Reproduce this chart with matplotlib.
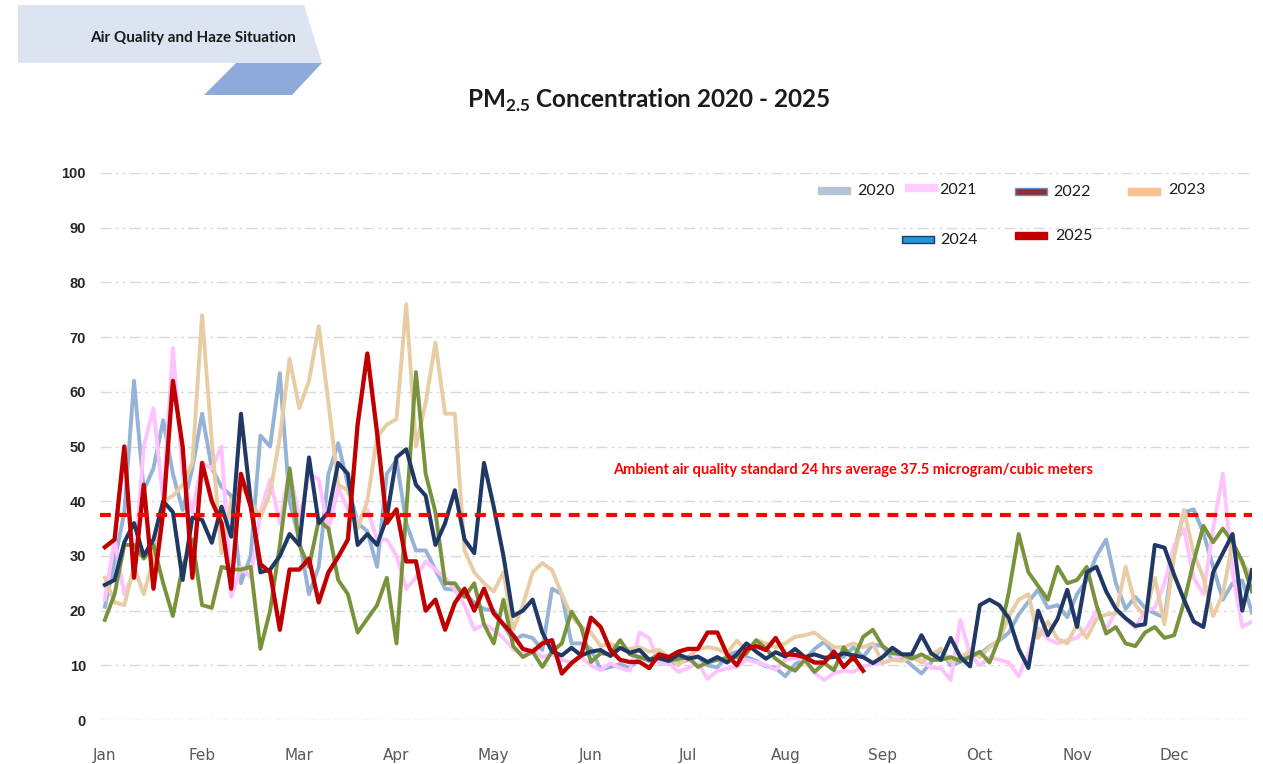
import numpy as np
import matplotlib.pyplot as plt
from matplotlib.patches import Polygon, Rectangle

plt.rcParams['mathtext.fontset'] = 'custom'
plt.rcParams['mathtext.rm'] = 'Lato:bold'
plt.rcParams['mathtext.bf'] = 'Lato:bold'

## Data: daily-ish PM2.5 readings, one value every ~3 days (0.1 month)
months = ['Jan', 'Feb', 'Mar', 'Apr', 'May', 'Jun', 'Jul', 'Aug', 'Sep', 'Oct', 'Nov', 'Dec']
years = ['2020', '2021', '2022', '2023', '2024', '2025']
standard = 37.5

pm2020 = [20.7, 29, 38, 62, 42, 46, 54.8, 45, 38.4, 46,
          56, 46, 42.6, 41, 25, 30, 52, 50, 63.4, 40,
          33, 23, 28, 45, 50.6, 43, 36, 34.5, 28, 45,
          47.5, 36, 31, 31, 27.5, 24, 23.8, 23, 21.5, 20.3,
          20, 17.3, 14.6, 15.5, 15, 12.8, 24, 23, 14, 14,
          13, 9.2, 9.7, 10.2, 9.5, 11.5, 10.8, 11, 10.2, 10.4,
          11, 11.5, 10, 9.6, 11.8, 12.5, 11.5, 10.8, 9.8, 9.5,
          8, 10.2, 11, 13, 14.3, 12.2, 11.5, 13.3, 11.5, 13.8,
          13.5, 11, 11.5, 10, 8.5, 10.5, 13, 10, 10.6, 12,
          12, 13.5, 14.5, 16, 19.3, 21.6, 23.8, 20.5, 21, 18.8,
          23, 25.6, 30, 33, 25, 20.3, 22.5, 20.5, 19.5, 18.7,
          31, 38, 38.5, 34.2, 28, 22, 25, 25.5, 19.6]

pm2021 = [22, 33, 23, 27, 50, 57, 40, 68, 45, 38,
          47, 46, 50, 22.5, 28, 26, 38, 44, 36, 46,
          36.5, 45, 44, 34.7, 42.5, 38.4, 36.5, 38.5, 33, 33,
          30, 24, 26, 29, 27.5, 26, 23.8, 21, 16.5, 17.5,
          16.5, 15, 13, 12, 13, 11.5, 12, 11, 10.5, 11.5,
          10, 9.1, 10.4, 9.5, 9, 16, 15, 10.4, 10.4, 8.8,
          9.5, 10.4, 7.5, 9, 9.4, 9.7, 11, 10.6, 10, 9.2,
          11, 11.3, 11, 8.6, 7.3, 8.6, 9, 8.8, 9.8, 10.2,
          10.4, 11, 11.8, 12, 11, 9.5, 9.5, 7.3, 18.3, 12,
          10, 11.5, 11, 10.5, 8, 12.2, 16.8, 14.8, 14, 14.6,
          15, 16.8, 20, 16.5, 20, 18.5, 16.8, 20, 20.5, 25,
          32, 35, 26, 23, 35, 45, 27, 17, 18]

pm2022 = [24.7, 25.6, 32.5, 36, 30, 33, 40, 38, 25.6, 37,
          36.6, 32.4, 39, 33.5, 56, 40, 27, 27.5, 30, 34,
          32, 48, 36, 38, 47, 45, 32, 34, 32, 37,
          48, 49.5, 43, 41, 32, 36, 42, 33, 30.5, 47,
          39, 30, 19, 20, 22, 16, 12.5, 11.8, 13.2, 11.8,
          12.5, 12.8, 11.7, 13.2, 12.3, 12.8, 11, 11.3, 10.8, 12,
          11.2, 11.6, 10.6, 11.5, 10.5, 12, 14, 12.5, 11.2, 12.4,
          11.6, 13, 11.5, 12, 11.4, 11.5, 12.2, 11.8, 11.5, 10.4,
          11.5, 13.2, 12, 12, 15.5, 12.2, 11, 15, 11.5, 9.8,
          21, 22, 21, 18.6, 13, 9.5, 20, 15.5, 18.5, 23.8,
          17, 27, 28, 23.5, 20.3, 18.6, 17.2, 17.5, 32, 31.5,
          26.5, 22, 18, 17, 27, 30.5, 34, 20, 27.4]

pm2023 = [26, 21.5, 21, 28, 23, 29.5, 40, 41, 43, 47,
          74, 51, 30.5, 40, 43, 40, 37, 41.5, 51.7, 66,
          57, 62, 72, 58, 43, 42, 35, 40, 51.7, 54,
          55, 76, 50, 58, 69, 56, 56, 31, 27, 25,
          23.5, 27, 16.5, 21, 27, 28.7, 27.4, 23, 19, 17,
          16, 13.5, 14, 13, 13, 13.3, 12.5, 12.8, 11.5, 10,
          11.5, 13, 13.3, 13, 12.2, 14.5, 12.8, 14.6, 14, 13.3,
          14, 15.2, 15.5, 16, 14.6, 13.3, 13.3, 14, 13.3, 14,
          10.5, 11, 10.8, 11.5, 10.5, 12, 13, 10.6, 11.5, 12.5,
          11.5, 13.3, 14.6, 19, 22, 23, 15, 18, 14.8, 14,
          17.5, 15, 18.5, 19.3, 19.5, 28, 21, 19, 26, 17.5,
          30, 38.4, 30.5, 26, 19, 23, 32.5, 28.5, 26.5]

pm2024 = [18.3, 23, 32, 32, 29.5, 32, 25, 19, 28, 33,
          21, 20.5, 28, 27.5, 27.5, 28, 13, 20, 32, 46,
          32, 28, 36.5, 35, 25.6, 23, 16, 18.5, 21, 26,
          14, 38, 63.6, 45, 38, 25, 25, 22.5, 25, 17.5,
          14, 22, 13.5, 11.5, 12.5, 9.7, 12.5, 14, 19.8, 17,
          10.6, 12.2, 12, 14.6, 12, 11.5, 11, 12, 10.8, 11.2,
          11.5, 9.7, 10.5, 11, 11.3, 11.5, 12.2, 14.6, 13, 11.2,
          9.9, 9, 11, 8.8, 10.4, 9.1, 13.3, 11, 15.2, 16.5,
          13.5, 12.2, 12, 11.2, 12, 11, 11, 11.5, 10.8, 11.5,
          12.5, 10.5, 15, 23.5, 34, 27, 24.5, 22, 28, 25,
          25.6, 28, 21, 15.8, 17, 14, 13.5, 16, 17, 15,
          15.5, 21.5, 29, 35.5, 32.5, 35, 32.5, 29, 23.5]

pm2025 = [31.6, 33, 50, 26, 43, 24, 38, 62, 50, 26,
          47, 40, 36, 24, 45, 39, 28.5, 27, 16.5, 27.5,
          27.5, 29.5, 21.5, 27, 29.8, 33, 54, 67, 52.5, 36,
          38.5, 29, 29, 20, 22, 16.5, 21.4, 24, 20, 24,
          19.5, 17.5, 15.5, 13, 12.5, 14, 14.6, 8.5, 10.4, 11.8,
          18.7, 17, 12.8, 11, 10.6, 10.6, 9.5, 12, 11.5, 12.5,
          13, 13, 16, 16, 12, 10, 13, 13.5, 12.8, 15,
          12, 11.9, 11.5, 10.5, 10.5, 12.5, 9.7, 11.5, 9]

series = [pm2020, pm2021, pm2022, pm2023, pm2024, pm2025]
line_colors = ['#95b3d7', '#ffc2ff', '#1f3864', '#e8cca4', '#77933c', '#c00000']
line_widths = [2.8, 2.8, 2.9, 2.8, 2.8, 3.1]
draw_order = [2.0, 2.1, 2.5, 2.2, 2.3, 2.6]

# legend swatches look different from the lines in the source
swatch_fill = ['#b4c3d6', '#ffccff', '#8c2f3f', '#f7c08e', '#1e98d8', '#c00000']
swatch_edge = ['#b4c3d6', '#ffccff', '#6f8fc4', '#f7c08e', '#1f3864', '#c00000']

W, H = 1263, 764
fig = plt.figure(figsize=(W / 100, H / 100), dpi=100)
ax = fig.add_axes([100 / W, 44 / H, 1152 / W, 547 / H])

for vals, c, lw, z in zip(series, line_colors, line_widths, draw_order):
    x = np.arange(len(vals)) * 0.1
    ax.plot(x, vals, color=c, lw=lw, zorder=z, solid_joinstyle='round')

ax.axhline(standard, color='#ff0000', lw=3, linestyle=(0, (2.6, 1.9)), zorder=5)
ax.text(5.23, 45.7, 'Ambient air quality standard 24 hrs average 37.5 microgram/cubic meters',
        color='#ff0000', fontsize=10.5, fontweight='bold', family='Lato',
        ha='left', va='center')

ax.set_xlim(-0.05, 11.8)
ax.set_ylim(0, 100)
ax.set_yticks(range(0, 101, 10))
ax.set_xticks(range(12))
ax.set_xticklabels(months, family=['Liberation Sans Narrow', 'DejaVu Sans'],
                   fontsize=11, color='#595959')
ax.set_yticklabels([str(v) for v in range(0, 101, 10)], family='Liberation Sans',
                   fontweight='bold', fontsize=10.5, color='#262626')
ax.tick_params(axis='both', length=0)
ax.tick_params(axis='y', pad=10)
ax.tick_params(axis='x', pad=20)
ax.yaxis.grid(True, color='#d9d9d9', lw=1, linestyle=(0, (8, 3, 2, 3, 2, 3)))
ax.set_axisbelow(True)
for s in ax.spines.values():
    s.set_visible(False)

## Banner at top left
def fpt(px, py):
    return (px / W, 1 - py / H)

fig.add_artist(Polygon([fpt(18, 5), fpt(304, 5), fpt(322, 63), fpt(18, 63)],
                       closed=True, facecolor='#dbe4f0', edgecolor='none',
                       transform=fig.transFigure))
fig.add_artist(Polygon([fpt(236, 63), fpt(322, 63), fpt(292, 95), fpt(204, 95)],
                       closed=True, facecolor='#8eaadb', edgecolor='none',
                       transform=fig.transFigure))
fig.text(193 / W, 1 - 38 / H, 'Air Quality and Haze Situation', family='Lato',
         fontweight='bold', fontsize=11, color='#1a1a1a', ha='center', va='center')

## Title
fig.text(649 / W, 1 - 100 / H, r'PM$_{2.5}$ Concentration 2020 - 2025', family='Lato',
         fontweight='bold', fontsize=17.5, color='#1a1a1a', ha='center', va='center')

## Legend drawn by hand (two uneven rows)
legend_pos = [(818, 187, 857, 191), (905, 184, 939, 190), (1015, 188, 1053, 192),
              (1128, 188, 1168, 190), (902, 236, 940, 240), (1015, 232, 1055, 236)]
for yr, fc, ec, (sx, sy, tx, ty) in zip(years, swatch_fill, swatch_edge, legend_pos):
    fig.add_artist(Rectangle(fpt(sx, sy + 7), 32 / W, 7 / H, facecolor=fc, edgecolor=ec,
                             lw=1, transform=fig.transFigure))
    fig.text(tx / W, 1 - ty / H, yr, family='Lato', fontsize=11.5, color='#1a1a1a',
             ha='left', va='center')

fig.savefig('out.png', dpi=100)
